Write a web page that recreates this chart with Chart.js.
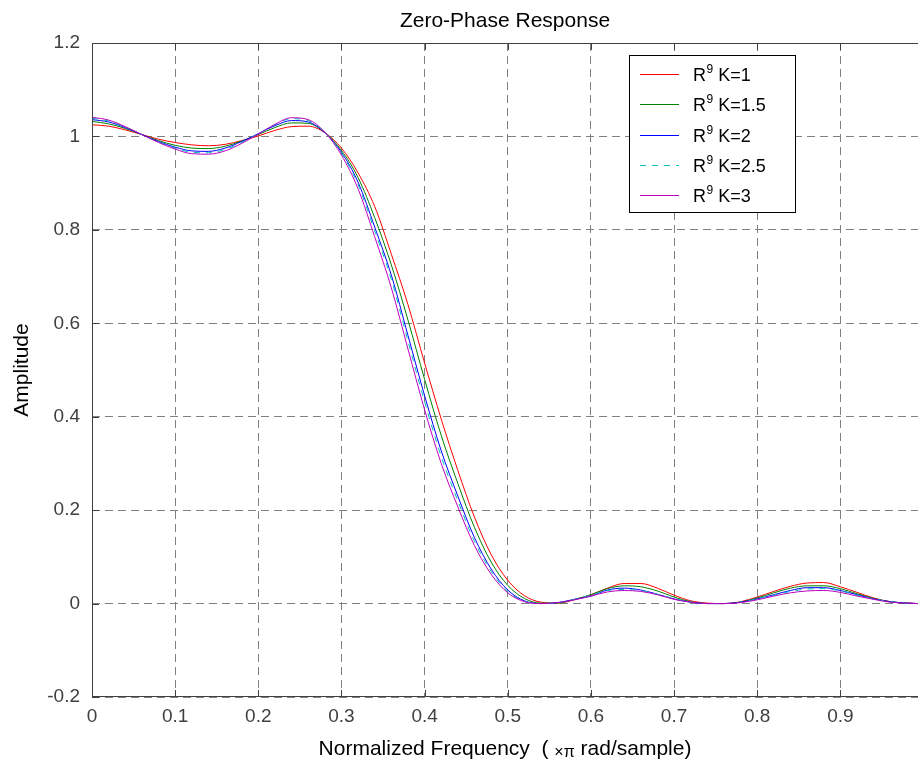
<!DOCTYPE html>
<html>
<head>
<meta charset="utf-8">
<title>Zero-Phase Response</title>
<script src="https://cdn.jsdelivr.net/npm/chart.js@4.4.1/dist/chart.umd.min.js"></script>
<style>
  html, body { margin: 0; padding: 0; background: #ffffff; }
  #wrap { width: 918px; height: 766px; position: relative; }
</style>
</head>
<body>
<div id="wrap"><canvas id="zp" width="918" height="766"></canvas></div>
<script>
// Normalized frequency grid (x pi rad/sample)
const freq = [
  0.00, 0.02, 0.04, 0.06, 0.08, 0.10, 0.12, 0.14, 0.16, 0.18,
  0.20, 0.22, 0.24, 0.26, 0.28, 0.30, 0.32, 0.34, 0.36, 0.38,
  0.40, 0.42, 0.44, 0.46, 0.48, 0.50, 0.52, 0.54, 0.56, 0.58,
  0.60, 0.62, 0.64, 0.66, 0.68, 0.70, 0.72, 0.74, 0.76, 0.78,
  0.80, 0.82, 0.84, 0.86, 0.88, 0.90, 0.92, 0.94, 0.96, 0.98, 0.993
];

// Zero-phase amplitude for each K
const ampK1 = [
  1.025, 1.022, 1.014, 1.004, 0.994, 0.987, 0.982, 0.980, 0.983, 0.991,
  1.001, 1.013, 1.021, 1.022, 1.008, 0.975, 0.922, 0.850, 0.748, 0.640,
  0.515, 0.395, 0.285, 0.185, 0.105, 0.050, 0.017, 0.003, 0.001, 0.008,
  0.019, 0.033, 0.043, 0.043, 0.033, 0.018, 0.006, 0.001, 0.000, 0.004,
  0.014, 0.026, 0.037, 0.044, 0.045, 0.036, 0.024, 0.012, 0.004, 0.001, 0.000
];
const ampK15 = [
  1.032, 1.027, 1.017, 1.004, 0.991, 0.981, 0.975, 0.974, 0.979, 0.990,
  1.004, 1.019, 1.029, 1.028, 1.008, 0.970, 0.912, 0.826, 0.725, 0.607,
  0.480, 0.360, 0.257, 0.163, 0.089, 0.039, 0.011, 0.001, 0.001, 0.009,
  0.019, 0.032, 0.038, 0.036, 0.027, 0.014, 0.004, 0.000, 0.000, 0.003,
  0.012, 0.023, 0.033, 0.038, 0.038, 0.032, 0.021, 0.011, 0.004, 0.001, 0.000
];
const ampK2 = [
  1.036, 1.031, 1.019, 1.004, 0.989, 0.977, 0.969, 0.968, 0.975, 0.989,
  1.006, 1.023, 1.034, 1.031, 1.008, 0.966, 0.902, 0.806, 0.703, 0.574,
  0.445, 0.327, 0.230, 0.141, 0.074, 0.029, 0.006, 0.000, 0.002, 0.009,
  0.016, 0.029, 0.033, 0.029, 0.020, 0.010, 0.003, 0.000, 0.000, 0.003,
  0.010, 0.019, 0.028, 0.034, 0.034, 0.028, 0.019, 0.010, 0.004, 0.001, 0.000
];
const ampK25 = [
  1.039, 1.033, 1.020, 1.004, 0.988, 0.975, 0.966, 0.965, 0.972, 0.987,
  1.006, 1.025, 1.038, 1.034, 1.009, 0.964, 0.897, 0.798, 0.694, 0.562,
  0.432, 0.315, 0.220, 0.133, 0.069, 0.026, 0.005, 0.000, 0.002, 0.009,
  0.018, 0.028, 0.030, 0.028, 0.020, 0.010, 0.003, 0.000, 0.000, 0.003,
  0.010, 0.018, 0.026, 0.031, 0.032, 0.027, 0.018, 0.010, 0.004, 0.001, 0.000
];
const ampK3 = [
  1.041, 1.035, 1.021, 1.004, 0.987, 0.973, 0.963, 0.962, 0.969, 0.985,
  1.005, 1.026, 1.040, 1.036, 1.009, 0.960, 0.888, 0.785, 0.676, 0.545,
  0.415, 0.300, 0.207, 0.124, 0.063, 0.023, 0.004, 0.000, 0.002, 0.008,
  0.016, 0.025, 0.028, 0.026, 0.019, 0.009, 0.003, 0.000, 0.000, 0.002,
  0.008, 0.016, 0.023, 0.027, 0.028, 0.024, 0.016, 0.009, 0.003, 0.001, 0.000
];

const seriesNames = ['K=1', 'K=1.5', 'K=2', 'K=2.5', 'K=3'];
const seriesAmps = [ampK1, ampK15, ampK2, ampK25, ampK3];
const seriesColors = ['#ff0000', '#008000', '#0000ff', '#00bfbf', '#bf00bf'];
const seriesDash = [[], [], [], [6, 6], []];

const xTicks = [0, 0.1, 0.2, 0.3, 0.4, 0.5, 0.6, 0.7, 0.8, 0.9];
const xTickLabels = ['0', '0.1', '0.2', '0.3', '0.4', '0.5', '0.6', '0.7', '0.8', '0.9'];
const yTicks = [-0.2, 0, 0.2, 0.4, 0.6, 0.8, 1, 1.2];
const yTickLabels = ['-0.2', '0', '0.2', '0.4', '0.6', '0.8', '1', '1.2'];

const FONT = '"Liberation Sans", Arial, Helvetica, sans-serif';
const PLOT_LEFT = 92, PLOT_TOP = 43, PLOT_BOTTOM = 697;

const datasets = seriesAmps.map((amp, i) => ({
  label: 'R9 ' + seriesNames[i],
  data: freq.map((f, j) => ({ x: f, y: amp[j] })),
  borderColor: seriesColors[i],
  backgroundColor: seriesColors[i],
  borderWidth: 1,
  borderDash: seriesDash[i],
  pointRadius: 0,
  fill: false,
  cubicInterpolationMode: 'monotone',
  order: seriesAmps.length - i
}));

// Axes frame, inner ticks, title, axis labels and legend box
const decorations = {
  id: 'decorations',
  afterDraw(chart) {
    const ctx = chart.ctx;
    const a = chart.chartArea;
    const xs = chart.scales.x, ys = chart.scales.y;
    ctx.save();

    // frame
    ctx.strokeStyle = '#404040';
    ctx.lineWidth = 1;
    ctx.setLineDash([]);
    ctx.beginPath();
    ctx.moveTo(a.left + 0.5, a.top + 0.5);
    ctx.lineTo(a.right, a.top + 0.5);
    ctx.moveTo(a.left + 0.5, a.top);
    ctx.lineTo(a.left + 0.5, a.bottom - 0.5);
    ctx.lineTo(a.right, a.bottom - 0.5);
    ctx.stroke();

    // inner tick marks
    const tl = 7;
    ctx.beginPath();
    xTicks.forEach(v => {
      const px = Math.round(xs.getPixelForValue(v)) + 0.5;
      ctx.moveTo(px, a.bottom); ctx.lineTo(px, a.bottom - tl);
      ctx.moveTo(px, a.top); ctx.lineTo(px, a.top + tl);
    });
    yTicks.forEach(v => {
      const py = Math.round(ys.getPixelForValue(v)) + 0.5;
      ctx.moveTo(a.left, py); ctx.lineTo(a.left + tl, py);
    });
    ctx.stroke();

    // title
    ctx.fillStyle = '#000000';
    ctx.font = '21px ' + FONT;
    ctx.textAlign = 'center';
    ctx.textBaseline = 'alphabetic';
    const cx = (a.left + a.right) / 2;
    ctx.fillText('Zero-Phase Response', cx, 27);

    // x label with a smaller "×π"
    const big = '21px ' + FONT, small = '16px ' + FONT;
    const parts = [['Normalized Frequency  ( ', big], ['\u00d7\u03c0', small], [' rad/sample)', big]];
    let total = 0;
    parts.forEach(p => { ctx.font = p[1]; total += ctx.measureText(p[0]).width; });
    let x0 = cx - total / 2;
    ctx.textAlign = 'left';
    parts.forEach(p => {
      ctx.font = p[1];
      ctx.fillText(p[0], x0, p[1] === small ? 757 : 755);
      x0 += ctx.measureText(p[0]).width;
    });

    // y label
    ctx.save();
    ctx.translate(28, (a.top + a.bottom) / 2);
    ctx.rotate(-Math.PI / 2);
    ctx.font = big;
    ctx.textAlign = 'center';
    ctx.fillText('Amplitude', 0, 0);
    ctx.restore();

    // legend
    const lx = 629.5, ly = 55.5, lw = 166, lh = 157;
    const legendFont = '18px ' + FONT;
    ctx.fillStyle = '#ffffff';
    ctx.fillRect(lx, ly, lw, lh);
    ctx.strokeStyle = '#000000';
    ctx.strokeRect(lx, ly, lw, lh);
    chart.data.datasets.forEach((ds, i) => {
      const ry = 74 + i * 30.3;
      ctx.strokeStyle = ds.borderColor;
      ctx.setLineDash(ds.borderDash || []);
      ctx.beginPath();
      ctx.moveTo(640, Math.round(ry) + 0.5);
      ctx.lineTo(679, Math.round(ry) + 0.5);
      ctx.stroke();
      ctx.setLineDash([]);
      ctx.fillStyle = '#000000';
      ctx.textAlign = 'left';
      ctx.textBaseline = 'alphabetic';
      let tx = 693;
      ctx.font = legendFont;
      ctx.fillText('R', tx, ry + 7);
      tx += ctx.measureText('R').width;
      ctx.font = '12px ' + FONT;
      ctx.fillText('9', tx + 0.5, ry - 1);
      tx += ctx.measureText('9').width + 0.5;
      ctx.font = legendFont;
      ctx.fillText(' ' + seriesNames[i], tx, ry + 7);
    });
    ctx.restore();
  }
};

new Chart(document.getElementById('zp'), {
  type: 'line',
  data: { datasets },
  options: {
    responsive: false,
    animation: false,
    events: [],
    layout: { padding: { top: PLOT_TOP, right: 0, left: 0, bottom: 0 } },
    plugins: { legend: { display: false }, title: { display: false }, tooltip: { enabled: false } },
    scales: {
      x: {
        type: 'linear',
        min: 0,
        max: 0.9934,
        afterFit(scale) { scale.height = 766 - PLOT_BOTTOM; },
        afterBuildTicks(scale) { scale.ticks = xTicks.map(v => ({ value: v })); },
        ticks: {
          autoSkip: false,
          maxRotation: 0,
          padding: 8,
          color: '#404040',
          font: { family: FONT, size: 19 },
          callback: (v) => xTickLabels[xTicks.findIndex(t => Math.abs(t - v) < 1e-9)]
        },
        grid: { color: '#808080', lineWidth: 1, drawTicks: false },
        border: { display: false, dash: [8, 5] }
      },
      y: {
        type: 'linear',
        min: -0.2,
        max: 1.2,
        afterFit(scale) { scale.width = PLOT_LEFT; },
        afterBuildTicks(scale) { scale.ticks = yTicks.map(v => ({ value: v })); },
        ticks: {
          autoSkip: false,
          padding: 12,
          color: '#404040',
          font: { family: FONT, size: 19 },
          callback: (v) => yTickLabels[yTicks.findIndex(t => Math.abs(t - v) < 1e-9)]
        },
        grid: { color: '#808080', lineWidth: 1, drawTicks: false },
        border: { display: false, dash: [8, 5] }
      }
    }
  },
  plugins: [decorations]
});
</script>
</body>
</html>
